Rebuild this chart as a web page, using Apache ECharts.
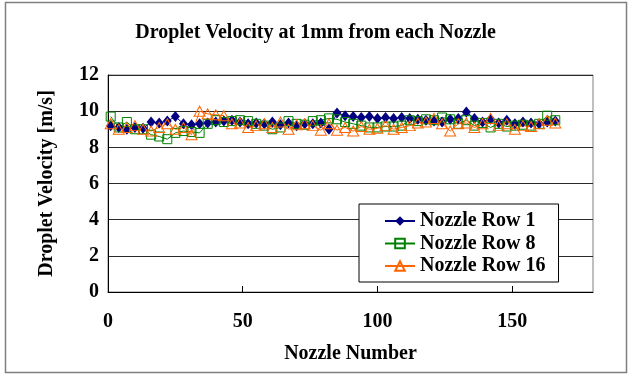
<!DOCTYPE html>
<html>
<head>
<meta charset="utf-8">
<script src="https://cdn.jsdelivr.net/npm/echarts@6/dist/echarts.min.js"></script>
<style>html,body{margin:0;padding:0;background:#fff;}#c{width:631px;height:374px;}</style>
</head>
<body>
<div id="c"></div>
<script>
var nozzles = [1,4,7,10,13,16,19,22,25,28,31,34,37,40,43,46,49,52,55,58,61,64,67,70,73,76,79,82,85,88,91,94,97,100,103,106,109,112,115,118,121,124,127,130,133,136,139,142,145,148,151,154,157,160,163,166];
var row1 = [9.2,9.1,9.0,9.1,9.05,9.4,9.35,9.45,9.7,9.3,9.25,9.3,9.35,9.4,9.45,9.5,9.4,9.3,9.35,9.3,9.4,9.25,9.35,9.2,9.3,9.3,9.35,9.0,9.9,9.75,9.7,9.65,9.7,9.6,9.65,9.6,9.65,9.6,9.55,9.5,9.45,9.4,9.55,9.6,9.95,9.6,9.4,9.55,9.35,9.5,9.3,9.4,9.35,9.3,9.4,9.45];
var row8 = [9.7,9.1,9.4,9.0,9.0,8.7,8.6,8.45,8.8,8.9,8.85,8.8,9.3,9.5,9.4,9.45,9.5,9.45,9.3,9.2,9.0,9.1,9.45,9.3,9.25,9.45,9.5,9.6,9.55,9.4,9.3,9.2,9.1,9.1,9.15,9.15,9.2,9.5,9.45,9.55,9.5,9.65,9.55,9.3,9.5,9.2,9.35,9.1,9.3,9.15,9.2,9.25,9.2,9.3,9.75,9.5];
var row16 = [9.3,9.0,9.1,9.2,9.0,8.9,9.1,9.3,9.0,9.1,8.7,10.0,9.85,9.8,9.75,9.3,9.35,9.1,9.2,9.3,9.1,9.4,9.0,9.25,9.3,9.2,8.95,9.3,8.95,9.1,8.9,9.15,9.0,9.05,9.2,9.0,9.1,9.2,9.35,9.4,9.6,9.3,8.9,9.3,9.35,9.1,9.3,9.6,9.2,9.3,9.0,9.2,9.15,9.3,9.5,9.35];
var xTicks = [0,50,100,150];
var seriesNames = ['Nozzle Row 1','Nozzle Row 8','Nozzle Row 16'];

function pairs(xs, ys){ return xs.map(function(x,i){ return [x, ys[i]]; }); }

var FONT = 'Liberation Serif';
var chart = echarts.init(document.getElementById('c'), null, {renderer:'canvas'});
chart.setOption({
  backgroundColor:'#fff',
  animation:false,
  title:{
    text:'Droplet Velocity at 1mm from each Nozzle',
    left:'center', top:18,
    textStyle:{fontFamily:FONT, fontWeight:'bold', fontSize:20, color:'#000'}
  },
  graphic:[{
    type:'rect', z:-1,
    shape:{x:5.5,y:2.5,width:621,height:370},
    style:{fill:'none', stroke:'#808080', lineWidth:1.5}
  }],
  grid:{left:108, top:75, right:38, bottom:82, show:true, borderColor:'#808080', borderWidth:1, backgroundColor:'#fff'},
  legend:{
    orient:'vertical', left:359, top:204,
    padding:[7,13,6,25], itemGap:2.5, itemWidth:30, itemHeight:12,
    borderColor:'#000', borderWidth:1, backgroundColor:'#fff',
    textStyle:{fontFamily:FONT, fontWeight:'bold', fontSize:20, color:'#000'},
    data:seriesNames
  },
  xAxis:{
    type:'value', min:0, max:180,
    name:'Nozzle Number', nameLocation:'middle', nameGap:52,
    nameTextStyle:{fontFamily:FONT, fontWeight:'bold', fontSize:20, color:'#000'},
    axisLine:{show:true, lineStyle:{color:'#000', width:1}},
    axisTick:{show:true, inside:true, length:6, customValues:xTicks, lineStyle:{color:'#000'}},
    axisLabel:{customValues:xTicks, margin:20, fontFamily:FONT, fontWeight:'bold', fontSize:20, color:'#000'},
    splitLine:{show:false}
  },
  yAxis:{
    type:'value', min:0, max:12, interval:2,
    name:'Droplet Velocity [m/s]', nameLocation:'middle', nameGap:51,
    nameTextStyle:{fontFamily:FONT, fontWeight:'bold', fontSize:20, color:'#000'},
    axisLine:{show:true, lineStyle:{color:'#000', width:1}},
    axisTick:{show:false},
    axisLabel:{margin:9, fontFamily:FONT, fontWeight:'bold', fontSize:20, color:'#000'},
    splitLine:{show:true, lineStyle:{color:'#2a2a2a', width:1}}
  },
  series:[
    {name:seriesNames[0], type:'line', data:pairs(nozzles,row1), symbol:'diamond', symbolSize:[9,11],
     color:'#000080', lineStyle:{color:'#000080', width:1}, itemStyle:{color:'#000080'}},
    {name:seriesNames[1], type:'line', data:pairs(nozzles,row8), symbol:'rect', symbolSize:9,
     color:'#008000', lineStyle:{color:'#008000', width:1}, itemStyle:{color:'none', borderColor:'#008000', borderWidth:1}},
    {name:seriesNames[2], type:'line', data:pairs(nozzles,row16), symbol:'triangle', symbolSize:[11,10],
     color:'#FF6600', lineStyle:{color:'#FF6600', width:1}, itemStyle:{color:'none', borderColor:'#FF6600', borderWidth:1}}
  ]
});
</script>
</body>
</html>
